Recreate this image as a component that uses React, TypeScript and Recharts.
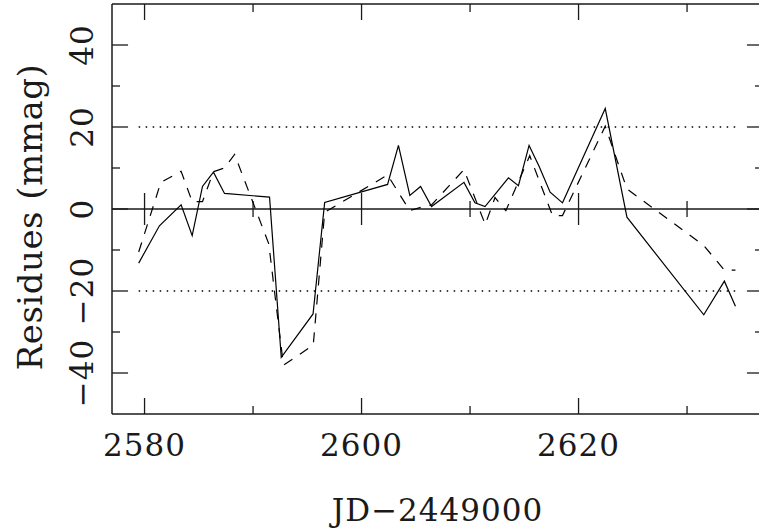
import React from 'react';
import { LineChart, Line, XAxis, YAxis, ReferenceLine, Label } from 'recharts';

const solidDays = [2579.46, 2581.37, 2583.37, 2584.39, 2585.34, 2586.35, 2587.37, 2591.52, 2592.6, 2595.53, 2596.6, 2602.4, 2603.4, 2604.45, 2605.44, 2606.45, 2609.44, 2610.45, 2611.38, 2613.54, 2614.46, 2615.44, 2616.36, 2617.38, 2618.52, 2622.46, 2624.46, 2631.54, 2633.44, 2634.46];
const solidRes = [-13.2, -4.1, 1.0, -6.5, 5.5, 9.0, 3.8, 2.9, -36.2, -25.6, 1.6, 6.0, 15.5, 3.3, 5.5, 0.6, 6.5, 1.5, 0.6, 7.6, 5.7, 15.5, 10.4, 4.1, 1.5, 24.5, -2.0, -25.8, -17.6, -23.7];

const dashedDays = [2579.46, 2581.5, 2583.37, 2584.39, 2585.34, 2586.35, 2587.37, 2588.3, 2591.45, 2592.8, 2595.55, 2596.6, 2602.4, 2603.4, 2604.45, 2605.44, 2606.45, 2609.44, 2611.4, 2612.3, 2613.3, 2615.5, 2617.6, 2618.52, 2622.46, 2624.46, 2631.54, 2633.44, 2634.46];
const dashedRes = [-10.5, 6.5, 9.2, 1.8, 1.8, 9.1, 10.0, 13.3, -8.5, -38.1, -33.2, -0.8, 8.3, 4.0, -0.4, 0.4, 1.0, 9.6, -3.8, 2.8, -0.4, 13.0, -1.6, -1.6, 20.2, 4.9, -8.9, -14.9, -14.9];

const xMajor = [2580, 2600, 2620];
const xMinor = [2590, 2610, 2630];
const yMajor = [-40, -20, 0, 20, 40];
const yMinor = [-30, -10, 10, 30];
const limits = [-20, 20];

const X_MIN = 2577, X_MAX = 2637, Y_MIN = -50, Y_MAX = 50;
// tick lengths in data units (about 16px / 8px)
const TX_MAJ = 3.9, TX_MIN = 1.95;   // vertical ticks on x axes
const TY_MAJ = 1.48, TY_MIN = 0.74;  // horizontal ticks on y axes

const INK = '#1a1a1a';
const FONT = { fontFamily: '"DejaVu Serif", "Liberation Serif", serif', fill: INK };

const solidData = solidDays.map((d, i) => ({ jd: d, r: solidRes[i] }));
const dashedData = dashedDays.map((d, i) => ({ jd: d, r: dashedRes[i] }));

const fmt = (v: number) => (v < 0 ? `\u2212${Math.abs(v)}` : `${v}`);

const XTick = (p: any) => (
  <text x={p.x} y={p.y + 42} textAnchor="middle" fontSize={31} letterSpacing={1} style={FONT}>
    {fmt(p.payload.value)}
  </text>
);

const YTick = (p: any) => {
  const x = p.x - 19;
  return (
    <text x={x} y={p.y} transform={`rotate(-90 ${x} ${p.y})`} textAnchor="middle"
      fontSize={31} letterSpacing={1} style={FONT}>
      {fmt(p.payload.value)}
    </text>
  );
};

type Seg = [{ x: number; y: number }, { x: number; y: number }];
const tickSegs: Seg[] = [];
[...xMajor.map(v => [v, TX_MAJ]), ...xMinor.map(v => [v, TX_MIN])].forEach(([v, l]) => {
  tickSegs.push([{ x: v, y: Y_MIN }, { x: v, y: Y_MIN + l }]);
  tickSegs.push([{ x: v, y: Y_MAX }, { x: v, y: Y_MAX - l }]);
  tickSegs.push([{ x: v, y: -l }, { x: v, y: l }]);
});
[...yMajor.map(v => [v, TY_MAJ]), ...yMinor.map(v => [v, TY_MIN])].forEach(([v, l]) => {
  tickSegs.push([{ x: X_MIN, y: v }, { x: X_MIN + l, y: v }]);
  tickSegs.push([{ x: X_MAX, y: v }, { x: X_MAX - l, y: v }]);
});

export default function App() {
  return (
    <div style={{ position: 'absolute', left: 0, top: 0, width: 759, height: 529, overflow: 'hidden', background: '#fff' }}>
      <LineChart width={775} height={529} margin={{ top: 4, right: 12, bottom: 0, left: 0 }}>
        <XAxis dataKey="jd" type="number" domain={[X_MIN, X_MAX]} ticks={xMajor} allowDataOverflow
          height={115} tickSize={0} tickMargin={0} tickLine={false}
          axisLine={{ stroke: INK, strokeWidth: 1.5 }} tick={XTick}>
          <Label content={({ viewBox }: any) => (
            <text x={viewBox.x + viewBox.width / 2} y={viewBox.y + 107} textAnchor="middle"
              fontSize={31} letterSpacing={1} style={FONT}>JD{'\u2212'}2449000</text>
          )} />
        </XAxis>
        <YAxis type="number" domain={[Y_MIN, Y_MAX]} ticks={yMajor} allowDataOverflow
          width={112} tickSize={0} tickMargin={0} tickLine={false}
          axisLine={{ stroke: INK, strokeWidth: 1.5 }} tick={YTick}>
          <Label content={({ viewBox }: any) => {
            const x = viewBox.x + 42;
            const y = viewBox.y + viewBox.height / 2 + 8;
            return (
              <text x={x} y={y} transform={`rotate(-90 ${x} ${y})`} textAnchor="middle"
                fontSize={34} letterSpacing={0.5} style={FONT}>Residues (mmag)</text>
            );
          }} />
        </YAxis>

        <ReferenceLine y={Y_MAX} stroke={INK} strokeWidth={1.5} />
        <ReferenceLine x={X_MAX} stroke={INK} strokeWidth={1.5} />
        <ReferenceLine y={0} stroke={INK} strokeWidth={1.3} />
        {limits.map(v => (
          <ReferenceLine key={'lim' + v}
            segment={[{ x: solidDays[0], y: v }, { x: solidDays[solidDays.length - 1], y: v }]}
            stroke="#000" strokeWidth={1.5} strokeDasharray="1.5 5.5" />
        ))}
        {tickSegs.map((s, i) => (
          <ReferenceLine key={'t' + i} segment={s} stroke={INK} strokeWidth={1.3} />
        ))}

        <Line data={solidData} dataKey="r" type="linear" stroke="#000" strokeWidth={1.2}
          dot={false} isAnimationActive={false} />
        <Line data={dashedData} dataKey="r" type="linear" stroke="#000" strokeWidth={1.2}
          strokeDasharray="10 9" dot={false} isAnimationActive={false} />
      </LineChart>
    </div>
  );
}
